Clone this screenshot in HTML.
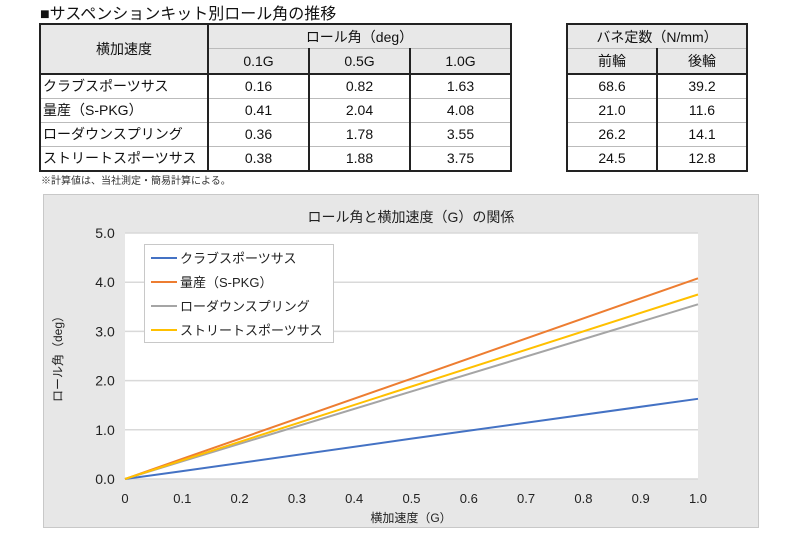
<!DOCTYPE html>
<html><head><meta charset="utf-8">
<style>
body{margin:0;width:800px;height:533px;background:#fff;font-family:"Liberation Sans","Noto Sans CJK JP",sans-serif;position:relative;overflow:hidden;color:#111}
.t{position:absolute;border-collapse:collapse;font-size:14px}
.t td{border:1px solid #bbb;text-align:center;padding:0;height:23px}
.t{border:2px solid #222}
.t .h{background:#e8e8e8}
.t td.l{text-align:left;padding-left:2px}
</style></head><body>
<div style="position:absolute;left:40px;top:0px;font-size:16px">■サスペンションキット別ロール角の推移</div>
<table class="t" style="left:39px;top:23px;width:473px">
<tr style="height:24px"><td class="h" rowspan="2" style="width:166px;border-right:2px solid #222;border-bottom:2px solid #222">横加速度</td><td class="h" colspan="3">ロール角（deg）</td></tr>
<tr style="height:25px"><td class="h" style="border-bottom:2px solid #222;border-right:2px solid #222">0.1G</td><td class="h" style="border-bottom:2px solid #222;border-right:2px solid #222">0.5G</td><td class="h" style="border-bottom:2px solid #222">1.0G</td></tr>
<tr><td class="l" style="border-right:2px solid #222">クラブスポーツサス</td><td style="border-right:2px solid #222">0.16</td><td style="border-right:2px solid #222">0.82</td><td>1.63</td></tr>
<tr><td class="l" style="border-right:2px solid #222">量産（S-PKG）</td><td style="border-right:2px solid #222">0.41</td><td style="border-right:2px solid #222">2.04</td><td>4.08</td></tr>
<tr><td class="l" style="border-right:2px solid #222">ローダウンスプリング</td><td style="border-right:2px solid #222">0.36</td><td style="border-right:2px solid #222">1.78</td><td>3.55</td></tr>
<tr><td class="l" style="border-right:2px solid #222">ストリートスポーツサス</td><td style="border-right:2px solid #222">0.38</td><td style="border-right:2px solid #222">1.88</td><td>3.75</td></tr>
</table>
<table class="t" style="left:566px;top:23px;width:182px">
<tr style="height:24px"><td class="h" colspan="2">バネ定数（N/mm）</td></tr>
<tr style="height:25px"><td class="h" style="border-bottom:2px solid #222;border-right:2px solid #222">前輪</td><td class="h" style="border-bottom:2px solid #222">後輪</td></tr>
<tr><td style="border-right:2px solid #222">68.6</td><td>39.2</td></tr>
<tr><td style="border-right:2px solid #222">21.0</td><td>11.6</td></tr>
<tr><td style="border-right:2px solid #222">26.2</td><td>14.1</td></tr>
<tr><td style="border-right:2px solid #222">24.5</td><td>12.8</td></tr>
</table>
<div style="position:absolute;left:41px;top:172px;font-size:10px;color:#333">※計算値は、当社測定・簡易計算による。</div>
<svg id="c" width="800" height="533" style="position:absolute;left:0;top:0"></svg>
<script>
const xs=[0,0.1,0.5,1.0];
const names=["クラブスポーツサス","量産（S-PKG）","ローダウンスプリング","ストリートスポーツサス"];
const club=[0,0.16,0.82,1.63];
const spkg=[0,0.41,2.04,4.08];
const lowdown=[0,0.36,1.78,3.55];
const street=[0,0.38,1.88,3.75];
const colors=["#4472c4","#ed7d31","#a5a5a5","#ffc000"];
const yTicks=[0,1,2,3,4,5];
const xTicks=[0,0.1,0.2,0.3,0.4,0.5,0.6,0.7,0.8,0.9,1.0];
const series=[club,spkg,lowdown,street];
const NS="http://www.w3.org/2000/svg";
const svg=document.getElementById('c');
const L=125,R=698,T=233,B=479;
const X=v=>L+(v-0)/(1-0)*(R-L);
const Y=v=>B-v/5*(B-T);
function mk(tag,a,p){const e=document.createElementNS(NS,tag);for(const k in a)e.setAttribute(k,a[k]);(p||svg).appendChild(e);return e;}
let bg=mk('rect',{x:43.5,y:194.5,width:715,height:333,fill:'#e7e7e7',stroke:'#c8c8c8'});


let pa=mk('rect',{x:L,y:T,width:R-L,height:B-T,fill:'#fff'});


let ti=mk('text',{x:411,y:222,'text-anchor':'middle','font-size':14,fill:'#222'});ti.textContent='ロール角と横加速度（G）の関係';


yTicks.forEach(v=>{
 let g=mk('line',{x1:L,x2:R,y1:Y(v),y2:Y(v),stroke:'#d9d9d9','stroke-width':1.5});
 
 
 let t=mk('text',{x:105,y:Y(v)+5,'text-anchor':'middle','font-size':14,fill:'#222'});t.textContent=v.toFixed(1);
 
 
});
xTicks.forEach(v=>{
 let t=mk('text',{x:X(v),y:503,'text-anchor':'middle','font-size':13,fill:'#222'});t.textContent=v===0?'0':v.toFixed(1);
 
 
});
let xt=mk('text',{x:411,y:522,'text-anchor':'middle','font-size':12,fill:'#222'});xt.textContent='横加速度（G）';


let yt=mk('text',{x:0,y:0,'text-anchor':'middle','font-size':12,fill:'#222',transform:'translate(62,356) rotate(-90)'});yt.textContent='ロール角（deg）';


series.forEach((s,i)=>{
 let p=mk('polyline',{points:s.map((v,j)=>X(xs[j])+','+Y(v)).join(' '),fill:'none',stroke:colors[i],'stroke-width':2});
 
 
});
let lg=mk('rect',{x:144.5,y:244.5,width:189,height:98,fill:'#fff',stroke:'#c8c8c8'});


names.forEach((n,i)=>{
 const y=258+i*24;
 let l=mk('line',{x1:151,x2:177,y1:y,y2:y,stroke:colors[i],'stroke-width':2});
 
 
 let t=mk('text',{x:180,y:y+5,'font-size':13,fill:'#222'});t.textContent=n;
 
 
});
</script>
</body></html>
